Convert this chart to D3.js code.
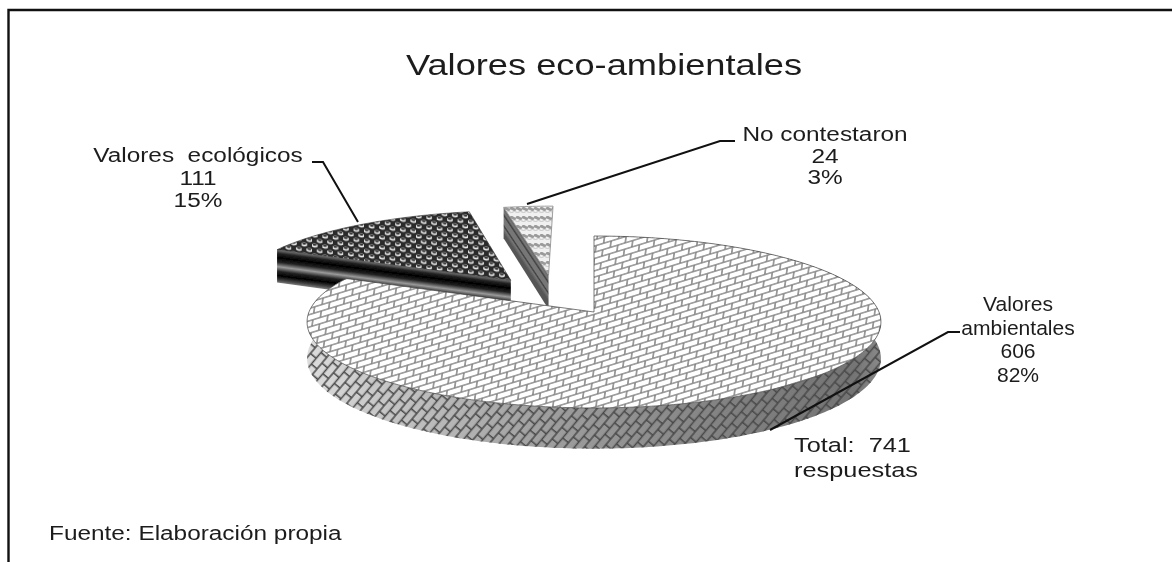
<!DOCTYPE html>
<html><head><meta charset="utf-8">
<script src="https://cdn.jsdelivr.net/npm/d3@7/dist/d3.min.js"></script>
<style>html,body{margin:0;padding:0;background:#fff;overflow:hidden}
svg{display:block}text{font-family:"Liberation Sans",Arial,sans-serif;fill:#1c1c1c}</style>
</head><body><svg id="c" width="1172" height="562"></svg>
<script>
const categories = ["Valores ambientales","Valores ecológicos","No contestaron"];
const values = [606,111,24];
const labelLines = [["Valores","ambientales"],["Valores  ecológicos"],["No contestaron"]];
const titleText = "Valores eco-ambientales";
const totalLines = ["Total:  741","respuestas"];
const sourceText = "Fuente: Elaboración propia";

const cx=594, cy=312, R=285, ry=84.8, k=0.116, depth=36;
const offsets=[[0,0],[-0.305,0.39],[-0.168,0.46]];
const svg=d3.select("#c");
const defs=svg.append("defs");
defs.append("filter").attr("id","soft").attr("x","-5%").attr("y","-5%").attr("width","110%").attr("height","110%")
  .append("feGaussianBlur").attr("stdDeviation",0.45);
defs.append("filter").attr("id","softT").attr("x","-5%").attr("y","-20%").attr("width","110%").attr("height","140%")
  .append("feGaussianBlur").attr("stdDeviation",0.3);

function proj(u,v,d=0){const p=1/(1+k*v);return [cx+R*u*p, cy-ry*v*p+d*p];}
function rim(a,o,d=0){return proj(Math.sin(a)+o[0],Math.cos(a)+o[1],d);}
const line=d3.line();
const pie=d3.pie().sort(null).startAngle(0).endAngle(2*Math.PI);
const arcs=pie(values);
const total=d3.sum(values);
const pct=d3.format(".0%");
const step=Math.PI/180;
function arcPts(a0,a1,o,d=0){const n=Math.max(2,Math.ceil(Math.abs(a1-a0)/step));
  return d3.range(n+1).map(i=>rim(a0+(a1-a0)*i/n,o,d));}

function brick(id,w,h,tr,stroke,sw,bg){
  const p=defs.append("pattern").attr("id",id).attr("patternUnits","userSpaceOnUse")
    .attr("width",w).attr("height",h*2).attr("patternTransform",tr);
  if(bg)p.append("rect").attr("width",w).attr("height",h*2).attr("fill",bg);
  p.append("path").attr("d",`M0 0H${w}M0 ${h}H${w}M0 ${h*2}H${w}M${w/4} 0V${h}M${w*3/4} ${h}V${h*2}`)
    .attr("stroke",stroke).attr("stroke-width",sw).attr("fill","none");
}
brick("pTop",15,6.2,"skewY(-17) skewX(-8)","#808080",1.5,"#ffffff");
brick("pWall",15,7.5,"rotate(-50)","#484848",1.5,null);

const ep=defs.append("pattern").attr("id","pEco").attr("patternUnits","userSpaceOnUse")
  .attr("width",10.4).attr("height",10).attr("patternTransform","skewY(6)");
ep.append("rect").attr("width",10.4).attr("height",10).attr("fill","#2a2a2a");
[[2.6,2.5],[7.8,7.5]].forEach(c=>{
  ep.append("ellipse").attr("cx",c[0]).attr("cy",c[1]).attr("rx",3.1).attr("ry",1.9).attr("fill","#e8e8e8");
  ep.append("ellipse").attr("cx",c[0]).attr("cy",c[1]-.7).attr("rx",2).attr("ry",1).attr("fill","#333");
});
const np=defs.append("pattern").attr("id","pNo").attr("patternUnits","userSpaceOnUse").attr("width",6).attr("height",9);
np.append("rect").attr("width",6).attr("height",9).attr("fill","#f0f0f0");
np.append("path").attr("d","M0 2Q1.5 0.6 3 2T6 2").attr("stroke","#9a9a9a").attr("stroke-width",2.6).attr("fill","none");
np.append("path").attr("d","M0 5Q1.5 6 3 5T6 5").attr("stroke","#c4c4c4").attr("stroke-width",1).attr("fill","none");

const wg=defs.append("linearGradient").attr("id","gWall").attr("gradientUnits","userSpaceOnUse")
  .attr("x1",308).attr("x2",882).attr("y1",0).attr("y2",0);
[[0,"#dcdcdc"],[.12,"#c8c8c8"],[.4,"#a0a0a0"],[.75,"#808080"],[.95,"#747474"],[1,"#8a8a8a"]]
  .forEach(s=>wg.append("stop").attr("offset",s[0]).attr("stop-color",s[1]));

function stripes(id,a,b,d,stops){
  const dx=b[0]-a[0],dy=b[1]-a[1],L=Math.hypot(dx,dy),nx=-dy/L,ny=dx/L;
  const s=ny*d;
  const g=defs.append("linearGradient").attr("id",id).attr("gradientUnits","userSpaceOnUse")
    .attr("x1",a[0]).attr("y1",a[1]).attr("x2",a[0]+nx*s).attr("y2",a[1]+ny*s);
  stops.forEach(t=>g.append("stop").attr("offset",t[0]).attr("stop-color",t[1]));
}

const gMarks=svg.append("g").attr("filter","url(#soft)");
(function(){
  const a=arcs[1],o=offsets[1];
  const apex=proj(o[0],o[1]),c0=rim(a.startAngle,o);
  const apexB=proj(o[0],o[1],depth),c0B=rim(a.startAngle,o,depth);
  stripes("gEco",c0,apex,depth,[[0,"#777"],[.1,"#222"],[.22,"#000"],[.34,"#222"],[.47,"#9a9a9a"],[.6,"#222"],[.72,"#000"],[.84,"#444"],[.93,"#888"],[1,"#333"]]);
  gMarks.append("path").attr("d",line([c0,apex,apexB,c0B])+"Z").attr("fill","url(#gEco)");
  gMarks.append("path").attr("d",line([apex,...arcPts(a.startAngle,a.endAngle,o)])+"Z").attr("fill","url(#pEco)").attr("stroke","#333").attr("stroke-width",.6);
})();
(function(){
  const a=arcs[2],o=offsets[2];
  const apex=proj(o[0],o[1]),c0=rim(a.startAngle,o);
  const apexB=proj(o[0],o[1],depth),c0B=rim(a.startAngle,o,depth);
  stripes("gNo",c0,apex,26,[[0,"#666"],[.18,"#777"],[.3,"#3f3f3f"],[.38,"#777"],[.62,"#777"],[.7,"#3f3f3f"],[.8,"#777"],[1,"#555"]]);
  gMarks.append("path").attr("d",line([c0,apex,apexB,c0B])+"Z").attr("fill","url(#gNo)");
  gMarks.append("path").attr("d",line([apex,...arcPts(a.startAngle,a.endAngle,o)])+"Z").attr("fill","url(#pNo)").attr("stroke","#8a8a8a").attr("stroke-width",.8);
})();
(function(){
  const a=arcs[0],o=offsets[0];
  const top=arcPts(a.startAngle,a.endAngle,o);
  const bot=arcPts(a.startAngle,a.endAngle,o,depth).reverse();
  gMarks.append("path").attr("d",line([...top,...bot])+"Z").attr("fill","url(#gWall)");
  gMarks.append("path").attr("d",line([...top,...bot])+"Z").attr("fill","url(#pWall)");
  gMarks.append("path").attr("d",line([proj(0,0),...top])+"Z").attr("fill","url(#pTop)").attr("stroke","#444").attr("stroke-width",.7);
})();

const leaders=[
  [[960,332],[948,332],[770,430]],
  [[312,162],[323,162],[358,222]],
  [[735,141],[720,141],[527,204]]
];
leaders.forEach(l=>svg.append("path").attr("d",line(l)).attr("fill","none").attr("stroke","#111").attr("stroke-width",2));

svg.append("path").attr("d","M8.5 562V10H1172").attr("fill","none").attr("stroke","#111").attr("stroke-width",2.4);

function txt(x,y,s,size,anchor,scale){return svg.append("text").attr("transform",`translate(${x},${y}) scale(${scale},1)`)
  .attr("font-size",size).attr("text-anchor",anchor||"middle").attr("filter","url(#softT)").style("white-space","pre").text(s);}
txt(604,75,titleText,29,"middle",1.25);
const labelPos=[[1018,311,23.5,1.08],[198,162,22.5,1.25],[825,141,21.5,1.25]];
categories.forEach((c,i)=>{
  const lines=[...labelLines[i],String(values[i]),pct(values[i]/total)];
  lines.forEach((s,j)=>txt(labelPos[i][0],labelPos[i][1]+j*labelPos[i][2],s,19.5,"middle",labelPos[i][3]));
});
totalLines.forEach((s,j)=>txt(794,452+j*25,s,19.5,"start",1.3));
txt(49,540,sourceText,19.5,"start",1.25);
</script></body></html>
